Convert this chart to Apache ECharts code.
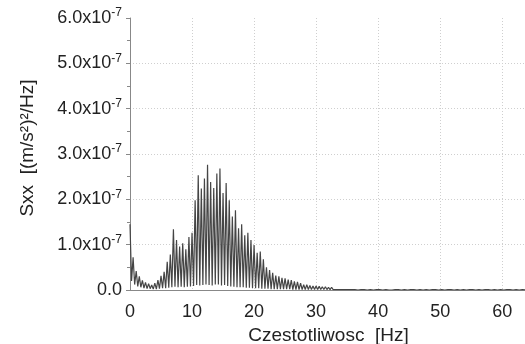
<!DOCTYPE html>
<html>
<head>
<meta charset="utf-8">
<script src="https://cdn.jsdelivr.net/npm/echarts@6/dist/echarts.min.js"></script>
<style>html,body{margin:0;padding:0;background:#fff;}#c{width:525px;height:344px;}</style>
</head>
<body>
<div id="c"></div>
<script>
// Spectrum values in units of 1e-9 (m/s^2)^2/Hz
// peaks at f = 0, 0.5, 1.0 ... 63.5 Hz
const peaks = [
  145, 72, 42, 30, 21, 17, 14, 11,
  15, 22, 31, 40, 62, 78, 134, 110,
  96, 103, 90, 117, 126, 198, 253, 224,
  246, 276, 238, 225, 257, 268, 214, 236,
  198, 162, 176, 136, 145, 121, 126, 110,
  99, 82, 85, 68, 50, 44, 38, 32,
  30, 27, 26, 23, 22, 19, 18, 15,
  12, 12, 10, 9, 9, 8, 7, 7,
  6, 6, 5, 5, 4, 4, 3, 3,
  2, 3, 2, 2, 3, 2, 1, 2,
  2, 3, 2, 2, 1, 2, 3, 2,
  2, 1, 2, 2, 3, 2, 1, 2,
  2, 2, 1, 2, 3, 2, 1, 2,
  2, 2, 1, 2, 2, 3, 2, 1,
  2, 2, 1, 2, 2, 2, 1, 2,
  2, 1, 2, 2, 1, 2, 2, 1
];
// troughs at f = 0.25, 0.75 ... 63.75 Hz
const troughs = [
  20, 12, 8, 6, 4, 3, 3, 2,
  2, 3, 4, 4, 5, 6, 7, 6,
  7, 6, 7, 8, 9, 11, 10, 11,
  12, 11, 10, 12, 12, 10, 11, 9,
  8, 7, 6, 6, 6, 5, 5, 4,
  4, 4, 3, 3, 3, 2, 2, 2,
  2, 2, 2, 2, 1, 1, 1, 1,
  1, 1, 1, 1, 1, 1, 1, 1,
  1, 1, 1, 1, 1, 1, 1, 1,
  1, 0, 1, 1, 0, 1, 0, 1,
  1, 0, 1, 0, 0, 1, 1, 0,
  1, 0, 1, 1, 0, 1, 0, 1,
  0, 1, 1, 0, 1, 0, 1, 1,
  0, 1, 0, 1, 0, 1, 1, 0,
  1, 0, 1, 1, 0, 1, 0, 1,
  0, 1, 1, 0, 1, 0, 1, 0
];
const freqStep = 0.25;           // Hz between successive samples
const xTicks = [0, 10, 20, 30, 40, 50, 60];
const yTicks = [0, 1, 2, 3, 4, 5, 6]; // x 1e-7

const series = [];
for (let i = 0; i < peaks.length; i++) {
  series.push([(2 * i) * freqStep, peaks[i] / 100]);
  if (i < troughs.length) series.push([(2 * i + 1) * freqStep, troughs[i] / 100]);
}

const FONT = '"Liberation Sans", Arial, sans-serif';
const chart = echarts.init(document.getElementById('c'), null, {renderer: 'canvas'});
chart.setOption({
  animation: false,
  backgroundColor: '#ffffff',
  grid: {left: 130, right: -2, top: 18, bottom: 54, containLabel: false, outerBoundsMode: 'none'},
  xAxis: {
    type: 'value', min: 0, max: 64, interval: 10,
    name: 'Czestotliwosc  [Hz]', nameLocation: 'middle', nameGap: 35,
    nameTextStyle: {fontFamily: FONT, fontSize: 19, color: '#222'},
    axisLine: {show: true, lineStyle: {color: '#888', width: 1}},
    axisTick: {show: false},
    axisLabel: {fontFamily: FONT, fontSize: 18, color: '#222', margin: 13, showMaxLabel: false,
      formatter: v => xTicks.includes(v) ? String(v) : ''},
    splitLine: {show: true, showMinLine: false, showMaxLine: false, lineStyle: {color: '#cfcfcf', type: [1, 2], width: 1}}
  },
  yAxis: {
    type: 'value', min: 0, max: 6, interval: 1,
    name: 'Sxx  [(m/s²)²/Hz]', nameLocation: 'middle', nameGap: 93,
    nameTextStyle: {fontFamily: FONT, fontSize: 19, color: '#222', padding: [0, 0, 0, 12]},
    axisLine: {show: true, lineStyle: {color: '#888', width: 1}},
    axisTick: {show: true, inside: false, length: 4, lineStyle: {color: '#888'}},
    minorTick: {show: true, splitNumber: 2, length: 3, lineStyle: {color: '#888'}},
    axisLabel: {
      fontFamily: FONT, margin: 8, color: '#222',
      formatter: v => {
        if (!yTicks.includes(v)) return '';
        return v === 0 ? '{a|0.0}' : '{a|' + v.toFixed(1) + 'x10}{b|-7}';
      },
      rich: {
        a: {fontFamily: FONT, fontSize: 18, color: '#222', lineHeight: 22},
        b: {fontFamily: FONT, fontSize: 12, color: '#222', verticalAlign: 'top', lineHeight: 12}
      }
    },
    splitLine: {show: true, showMinLine: false, showMaxLine: false, lineStyle: {color: '#cfcfcf', type: [1, 2], width: 1}}
  },
  series: [{
    type: 'line', data: series, symbol: 'none', sampling: null,
    lineStyle: {color: '#454545', width: 1.2},
    clip: true
  }]
});
</script>
</body>
</html>
